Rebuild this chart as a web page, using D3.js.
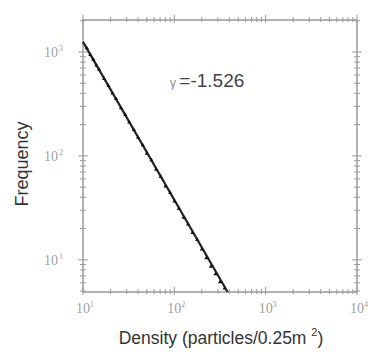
<!DOCTYPE html>
<html>
<head>
<meta charset="utf-8">
<script src="https://cdn.jsdelivr.net/npm/d3@7"></script>
<style>
  body { margin: 0; background: #fff; }
  svg { display: block; }
</style>
</head>
<body>
<div id="chart"></div>
<script>
// density (particles / 0.25 m^2) vs frequency
const densities = [11, 12, 13, 14, 15, 17, 19, 21, 23, 26, 29, 32, 36, 40, 45, 50, 56, 63, 71, 80, 90, 100, 112, 126, 141, 158, 178, 200, 224, 251, 282, 316, 355];
const frequencies = [1090, 940, 845, 745, 675, 552, 472, 400, 353, 289, 248, 210, 178, 150, 127, 105, 91, 74, 63, 51, 44, 36.5, 31, 25.5, 22, 18.2, 15.6, 12.6, 10.4, 8.6, 7.3, 6.1, 5.3];
// power-law fit endpoints
const fitX = [10, 383];
const fitY = [1250, 4.9];
const gammaLabel = 'γ =-1.526';
const xTickValues = [10, 100, 1000, 10000];
const xTickLabels = ['1', '2', '3', '4'];
const yTickValues = [10, 100, 1000];
const yTickLabels = ['1', '2', '3'];

const W = 376, H = 354;
const margin = { left: 83, right: 19, top: 20, bottom: 62 };

const svg = d3.select('#chart').append('svg')
  .attr('width', W).attr('height', H);

const x = d3.scaleLog().domain([10, 10000]).range([margin.left, W - margin.right]);
const y = d3.scaleLog().domain([4.9, 2030]).range([H - margin.bottom, margin.top]);

const axisColor = '#9a9a9a';

function minorTicks(domain) {
  const out = [];
  const lo = Math.floor(Math.log10(domain[0])), hi = Math.ceil(Math.log10(domain[1]));
  for (let e = lo; e <= hi; e++) {
    for (let m = 1; m < 10; m++) {
      const v = m * Math.pow(10, e);
      if (v >= domain[0] && v <= domain[1]) out.push({ v, major: m === 1 });
    }
  }
  return out;
}

// frame
svg.append('rect')
  .attr('x', margin.left).attr('y', margin.top)
  .attr('width', W - margin.left - margin.right)
  .attr('height', H - margin.top - margin.bottom)
  .attr('fill', 'none')
  .attr('stroke', axisColor)
  .attr('stroke-width', 1.5);

const ticks = svg.append('g').attr('stroke', axisColor).attr('stroke-width', 1);
const xt = minorTicks(x.domain());
const yt = minorTicks(y.domain());
[H - margin.bottom, margin.top].forEach(yy => {
  ticks.selectAll(null).data(xt).join('line')
    .attr('x1', d => x(d.v)).attr('x2', d => x(d.v))
    .attr('y1', d => yy - (d.major ? 5 : 3))
    .attr('y2', d => yy + (d.major ? 3 : 2));
});
[margin.left, W - margin.right].forEach(xx => {
  ticks.selectAll(null).data(yt).join('line')
    .attr('y1', d => y(d.v)).attr('y2', d => y(d.v))
    .attr('x1', d => xx - (d.major ? 5 : 3))
    .attr('x2', d => xx + (d.major ? 5 : 3));
});

// tick labels
const labelFont = '"Liberation Serif", serif';
const xl = svg.append('g').attr('fill', '#a0a0a0').attr('font-family', labelFont).attr('font-size', 14);
xTickValues.forEach((v, i) => {
  const t = xl.append('text').attr('x', x(v) + 2).attr('y', H - margin.bottom + 21).attr('text-anchor', 'middle');
  t.append('tspan').text('10');
  t.append('tspan').attr('dy', -6).attr('font-size', 8).text(xTickLabels[i]);
});
const yl = svg.append('g').attr('fill', '#a0a0a0').attr('font-family', labelFont).attr('font-size', 14);
yTickValues.forEach((v, i) => {
  const t = yl.append('text').attr('x', margin.left - 20).attr('y', y(v) + 5).attr('text-anchor', 'end');
  t.append('tspan').text('10');
  t.append('tspan').attr('dx', 1).attr('dy', -6).attr('font-size', 8).text(yTickLabels[i]);
});

// fit line
svg.append('path')
  .datum(fitX.map((v, i) => [v, fitY[i]]))
  .attr('fill', 'none')
  .attr('stroke', '#222')
  .attr('stroke-width', 2.2)
  .attr('d', d3.line().x(d => x(d[0])).y(d => y(d[1])));

// data points
svg.append('g').attr('fill', '#111')
  .selectAll('path')
  .data(densities.map((v, i) => [v, frequencies[i]]))
  .join('path')
  .attr('transform', d => `translate(${x(d[0])},${y(d[1])})`)
  .attr('d', d3.symbol(d3.symbolTriangle, 7));

// annotation
const g = svg.append('text')
  .attr('x', 170).attr('y', 87)
  .attr('font-family', '"Liberation Sans", Arial, sans-serif')
  .attr('font-size', 19)
  .attr('fill', '#444');
g.append('tspan').attr('fill', '#888').attr('font-size', 12).text(gammaLabel.slice(0, 2));
g.append('tspan').text(gammaLabel.slice(2));

// axis titles
svg.append('text')
  .attr('x', 221).attr('y', 344)
  .attr('text-anchor', 'middle')
  .attr('font-family', '"Liberation Sans", Arial, sans-serif')
  .attr('font-size', 17.5)
  .attr('fill', '#333')
  .call(t => {
    t.append('tspan').text('Density (particles/0.25m ');
    t.append('tspan').attr('dy', -8).attr('font-size', 11).text('2');
    t.append('tspan').attr('dy', 8).text(')');
  });

svg.append('text')
  .attr('transform', `translate(28,${(margin.top + H - margin.bottom) / 2 + 8}) rotate(-90)`)
  .attr('text-anchor', 'middle')
  .attr('font-family', '"Liberation Sans", Arial, sans-serif')
  .attr('font-size', 18)
  .attr('fill', '#333')
  .text('Frequency');
</script>
</body>
</html>
